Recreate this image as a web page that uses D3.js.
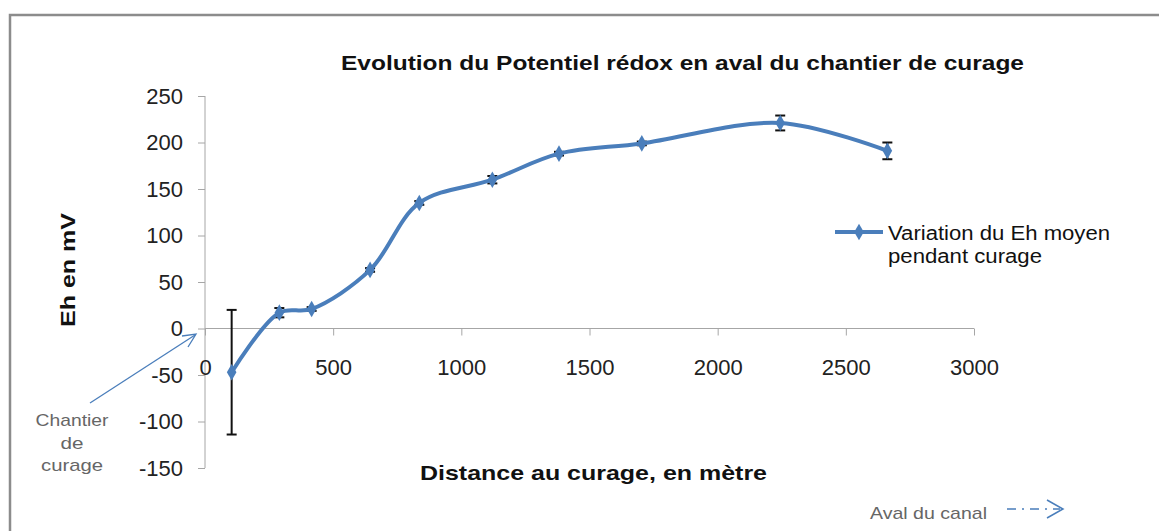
<!DOCTYPE html>
<html>
<head>
<meta charset="utf-8">
<script src="https://cdn.jsdelivr.net/npm/d3@7"></script>
<style>
  body { margin: 0; background: #fff; }
  svg { font-family: "Liberation Sans", Arial, sans-serif; }
</style>
</head>
<body>
<div id="chart-area"></div>
<script>
/* Data */
var distances = [104, 290, 416, 644, 836, 1121, 1381, 1704, 2244, 2662];
var ehValues = [-47, 17, 21, 63, 135, 160, 188, 199, 221, 191];
var ehErrors = [67, 5, 2, 2, 2, 4, 2, 2, 8, 9];
var xTicks = [0, 500, 1000, 1500, 2000, 2500, 3000];
var yTicks = [250, 200, 150, 100, 50, 0, -50, -100, -150];

var width = 1159;
var height = 531;
var blue = "#4a7ebb";

var svg = d3.select("#chart-area")
    .append("svg")
    .attr("width", width)
    .attr("height", height);

/* outer frame */
svg.append("path")
    .attr("d", "M10,531 L10,15 L1159,15")
    .attr("fill", "none")
    .attr("stroke", "#8c8c8c")
    .attr("stroke-width", 2.5);

/* scales */
var x = d3.scaleLinear().domain([0, 3000]).range([205, 974]);
var y = d3.scaleLinear().domain([-150, 250]).range([468, 96]);

/* y axis */
var yAxis = svg.append("g")
    .attr("transform", "translate(205,0)")
    .call(d3.axisLeft(y).tickValues(yTicks).tickSize(7).tickPadding(15)
        .tickFormat(function(d) { return d; }));
yAxis.select(".domain").attr("stroke", "#a6a6a6").attr("d", "M0," + y(250) + "V" + y(-150));
yAxis.selectAll(".tick line").attr("stroke", "#a6a6a6");
yAxis.selectAll("text")
    .attr("font-size", "22px")
    .attr("fill", "#222")
    .attr("font-family", "Liberation Sans, Arial, sans-serif");

/* x axis at y = 0 */
var xAxis = svg.append("g")
    .attr("transform", "translate(0," + y(0) + ")")
    .call(d3.axisBottom(x).tickValues(xTicks).tickSize(7).tickPadding(24)
        .tickFormat(function(d) { return d; }));
xAxis.select(".domain").attr("stroke", "#a6a6a6").attr("d", "M" + x(0) + ",0H" + x(3000));
xAxis.selectAll(".tick line").attr("stroke", "#a6a6a6");
xAxis.selectAll("text")
    .attr("font-size", "22px")
    .attr("fill", "#222")
    .attr("font-family", "Liberation Sans, Arial, sans-serif");

/* error bars */
var points = distances.map(function(d, i) {
    return { x: d, y: ehValues[i], e: ehErrors[i] };
});

var errG = svg.append("g").attr("stroke", "#111").attr("stroke-width", 2);
points.forEach(function(p) {
    var top = y(p.y + p.e), bot = y(p.y - p.e), cx = x(p.x);
    errG.append("line").attr("x1", cx).attr("x2", cx).attr("y1", top).attr("y2", bot);
    errG.append("line").attr("x1", cx - 5).attr("x2", cx + 5).attr("y1", top).attr("y2", top);
    errG.append("line").attr("x1", cx - 5).attr("x2", cx + 5).attr("y1", bot).attr("y2", bot);
});

/* smoothed line */
var line = d3.line()
    .x(function(d) { return x(d.x); })
    .y(function(d) { return y(d.y); })
    .curve(d3.curveCatmullRom.alpha(0.5));

svg.append("path")
    .datum(points)
    .attr("d", line)
    .attr("fill", "none")
    .attr("stroke", blue)
    .attr("stroke-width", 4);

/* diamond markers */
var diamond = d3.symbol().type(d3.symbolDiamond).size(80);
svg.selectAll(".marker")
    .data(points)
    .enter().append("path")
    .attr("class", "marker")
    .attr("d", diamond)
    .attr("transform", function(d) { return "translate(" + x(d.x) + "," + y(d.y) + ")"; })
    .attr("fill", blue);

/* title */
svg.append("text")
    .text("Evolution du Potentiel rédox en aval du chantier de curage")
    .attr("x", 341)
    .attr("y", 70)
    .attr("textLength", 683)
    .attr("lengthAdjust", "spacingAndGlyphs")
    .attr("font-size", "21px")
    .attr("font-weight", "bold")
    .attr("fill", "#111");

/* axis titles */
svg.append("text")
    .text("Eh  en mV")
    .attr("transform", "translate(75,327) rotate(-90)")
    .attr("textLength", 114)
    .attr("lengthAdjust", "spacingAndGlyphs")
    .attr("font-size", "21px")
    .attr("font-weight", "bold")
    .attr("fill", "#111");

svg.append("text")
    .text("Distance  au curage, en mètre")
    .attr("x", 420)
    .attr("y", 480)
    .attr("textLength", 347)
    .attr("lengthAdjust", "spacingAndGlyphs")
    .attr("font-size", "21px")
    .attr("font-weight", "bold")
    .attr("fill", "#111");

/* legend */
svg.append("line")
    .attr("x1", 835).attr("x2", 883)
    .attr("y1", 232).attr("y2", 232)
    .attr("stroke", blue)
    .attr("stroke-width", 4);
svg.append("path")
    .attr("d", diamond)
    .attr("transform", "translate(859,232)")
    .attr("fill", blue);
svg.append("text")
    .text("Variation du Eh moyen")
    .attr("x", 888).attr("y", 240)
    .attr("textLength", 222)
    .attr("lengthAdjust", "spacingAndGlyphs")
    .attr("font-size", "20px")
    .attr("fill", "#111");
svg.append("text")
    .text("pendant curage")
    .attr("x", 888).attr("y", 263)
    .attr("textLength", 154)
    .attr("lengthAdjust", "spacingAndGlyphs")
    .attr("font-size", "20px")
    .attr("fill", "#111");

/* annotation: chantier de curage */
var note = svg.append("g")
    .attr("font-size", "17px")
    .attr("fill", "#666");
var noteLines = ["Chantier", "de", "curage"];
var noteWidths = [73, 23, 62];
noteLines.forEach(function(t, i) {
    note.append("text").text(t)
        .attr("x", 72 - noteWidths[i] / 2)
        .attr("y", 426 + i * 22.5)
        .attr("textLength", noteWidths[i])
        .attr("lengthAdjust", "spacingAndGlyphs");
});

svg.append("line")
    .attr("x1", 90).attr("y1", 403)
    .attr("x2", 195).attr("y2", 335)
    .attr("stroke", blue)
    .attr("stroke-width", 1.3);
svg.append("path")
    .attr("d", "M182,336 L196,334 L188,347")
    .attr("fill", "none")
    .attr("stroke", blue)
    .attr("stroke-width", 1.3);

/* annotation: aval du canal */
svg.append("text")
    .text("Aval du canal")
    .attr("x", 870).attr("y", 519)
    .attr("textLength", 117)
    .attr("lengthAdjust", "spacingAndGlyphs")
    .attr("font-size", "17px")
    .attr("fill", "#666");
svg.append("line")
    .attr("x1", 1007).attr("x2", 1060)
    .attr("y1", 509).attr("y2", 509)
    .attr("stroke", blue)
    .attr("stroke-width", 1.5)
    .attr("stroke-dasharray", "9,6,2,6");
svg.append("path")
    .attr("d", "M1047,500 L1063,509 L1047,518")
    .attr("fill", "none")
    .attr("stroke", blue)
    .attr("stroke-width", 1.5);
</script>
</body>
</html>
